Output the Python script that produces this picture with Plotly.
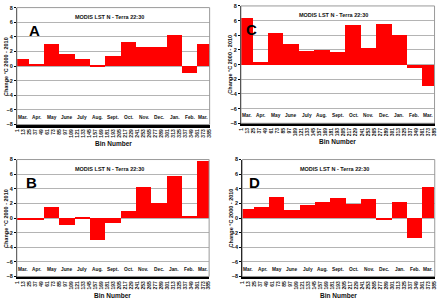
import plotly.graph_objects as go

# ---- data ----
bin_ticks = list(range(1, 386, 12))  # 1, 13, ..., 385
month_labels = ["Mar.", "Apr.", "May", "June", "July", "Aug.", "Sept.",
                "Oct.", "Nov.", "Dec.", "Jan.", "Feb.", "Mar."]
month_edges = [0.5, 25, 55, 85, 116, 146, 177, 208, 239, 269, 300, 331, 360, 385.5]

vals_A = [1.05, 0.3, 3.1, 1.65, 1.05, 0.15, 1.45, 3.3, 2.7, 2.7, 4.35, -0.92, 3.1]
vals_B = [-0.27, -0.13, 1.52, -0.94, 0.18, -2.95, -0.63, 1.07, 4.3, 2.14, 5.85, 0.4, 7.8]
vals_C = [6.3, 0.36, 4.3, 2.8, 1.85, 2.0, 1.7, 5.45, 2.28, 5.5, 4.0, -0.45, -2.95]
vals_D = [1.34, 1.6, 3.0, 1.16, 1.8, 2.32, 2.8, 1.96, 2.6, -0.18, 2.23, -2.68, 4.29]

panel_letters = ["A", "B", "C", "D"]
panel_title = "MODIS LST N - Terra 22:30"
y_title = "Change °C 2000 - 2010"
x_title = "Bin Number"

W, H = 440, 303
# plot-area boxes in pixels: (left, right, top, bottom)
boxes = {
    "A": (14, 209, 4.7, 124),
    "C": (240.7, 436.5, 3, 122.7),
    "B": (14, 208.5, 159.7, 279),
    "D": (242, 436.7, 159.7, 279),
}
series = {"A": vals_A, "B": vals_B, "C": vals_C, "D": vals_D}

centers = [(month_edges[i] + month_edges[i + 1]) / 2 for i in range(len(month_labels))]
widths = [month_edges[i + 1] - month_edges[i] for i in range(len(month_labels))]

FONT = "Liberation Sans, Arial, sans-serif"
fig = go.Figure()
layout = dict(width=W, height=H, margin=dict(l=0, r=0, t=0, b=0),
              paper_bgcolor="white", plot_bgcolor="white", showlegend=False,
              font=dict(family=FONT, color="#111"))
annotations = []
shapes = []

for idx, key in enumerate(panel_letters):
    n = idx + 1
    xa = "x" if n == 1 else f"x{n}"
    ya = "y" if n == 1 else f"y{n}"
    l, r, t, b = boxes[key]
    xd = [l / W, r / W]
    yd = [1 - b / H, 1 - t / H]
    fig.add_trace(go.Bar(x=centers, y=series[key], width=widths,
                         marker=dict(color="#ff0000", line=dict(width=0)),
                         xaxis=xa, yaxis=ya, hoverinfo="skip"))
    layout["xaxis" if n == 1 else f"xaxis{n}"] = dict(
        domain=xd, anchor=ya, range=[0.5, 385.5],
        tickmode="array", tickvals=bin_ticks, ticktext=[str(v) for v in bin_ticks],
        tickangle=-90, tickfont=dict(size=5, weight="bold"),
        showgrid=False, zeroline=False, showline=True, linecolor="black",
        linewidth=2.5, ticks="", fixedrange=True)
    layout["yaxis" if n == 1 else f"yaxis{n}"] = dict(
        domain=yd, anchor=xa, range=[-8, 8],
        tickmode="array", tickvals=list(range(-8, 9, 2)),
        tickfont=dict(size=5.5, weight="bold"),
        showgrid=True, gridcolor="#b4b4b4", gridwidth=1, zeroline=False,
        showline=True, linecolor="black", linewidth=1,
        ticks="outside", ticklen=2, tickcolor="black", fixedrange=True)
    # grey frame on top/right
    shapes.append(dict(type="rect", xref=f"{xa} domain", yref=f"{ya} domain",
                       x0=0, x1=1, y0=0, y1=1, line=dict(color="#9a9a9a", width=1),
                       layer="above"))
    # title inside
    annotations.append(dict(text=panel_title, xref="paper", yref=f"{ya} domain",
                            x=(l + 0.48 * (r - l)) / W, y=0.92,
                            xanchor="center", yanchor="middle",
                            showarrow=False, font=dict(size=5.5, weight="bold")))
    # panel letter
    lx = {"A": 0.09, "B": 0.077, "C": 0.056, "D": 0.065}[key]
    annotations.append(dict(text=key, xref="paper", yref=f"{ya} domain",
                            x=(l + lx * (r - l)) / W, y=0.80,
                            xanchor="center", yanchor="middle",
                            showarrow=False,
                            font=dict(size=15, weight="bold", color="black")))
    # month labels
    for c, m in zip(centers, month_labels):
        annotations.append(dict(text=m, xref=xa, yref=ya, x=c, y=-7.0,
                                xanchor="center", yanchor="middle",
                                showarrow=False, font=dict(size=4.8, weight="bold")))
    # axis titles
    annotations.append(dict(text=y_title, xref="paper", yref="paper",
                            x=(l - 11) / W, y=1 - (t + b) / 2 / H, textangle=-90,
                            xanchor="center", yanchor="middle", showarrow=False,
                            font=dict(size=5.5, weight="bold")))
    annotations.append(dict(text=x_title, xref="paper", yref="paper",
                            x=(l + r) / 2 / W, y=1 - (b + 19) / H,
                            xanchor="center", yanchor="middle",
                            showarrow=False, font=dict(size=6.5, weight="bold")))

layout["annotations"] = annotations
layout["shapes"] = shapes
layout["bargap"] = 0
fig.update_layout(**layout)
fig.write_html("out.html")
